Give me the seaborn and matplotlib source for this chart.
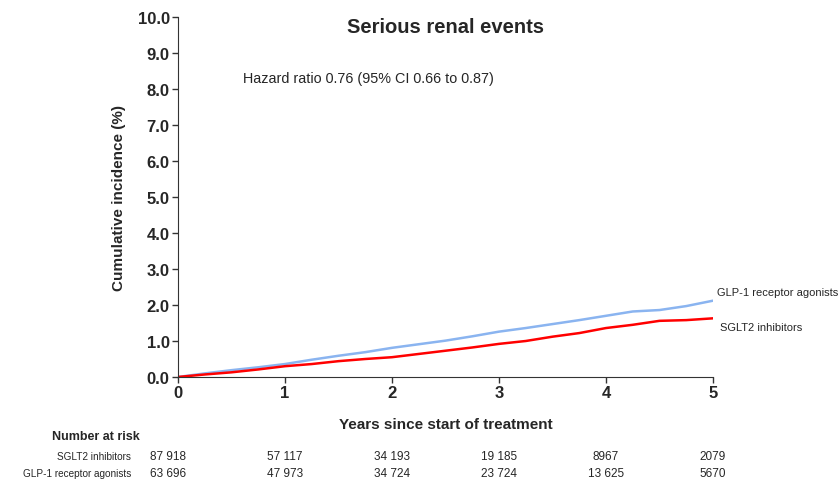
import matplotlib.pyplot as plt
import matplotlib.transforms as mtransforms
import seaborn as sns
import pandas as pd

years = [0, 0.25, 0.5, 0.75, 1, 1.25, 1.5, 1.75, 2, 2.25, 2.5, 2.75,
         3, 3.25, 3.5, 3.75, 4, 4.25, 4.5, 4.75, 5]
glp1 = [0, 0.10, 0.19, 0.27, 0.36, 0.48, 0.59, 0.69, 0.81, 0.91, 1.01, 1.13,
        1.26, 1.36, 1.47, 1.58, 1.70, 1.82, 1.86, 1.97, 2.12]
sglt2 = [0, 0.07, 0.13, 0.21, 0.30, 0.36, 0.44, 0.50, 0.55, 0.64, 0.73, 0.82,
         0.92, 1.00, 1.12, 1.22, 1.36, 1.45, 1.56, 1.58, 1.63]

risk_times = [0, 1, 2, 3, 4, 5]
risk_sglt2 = ["87 918", "57 117", "34 193", "19 185", "8967", "2079"]
risk_glp1 = ["63 696", "47 973", "34 724", "23 724", "13 625", "5670"]

sns.set_style("ticks")
plt.rcParams["font.family"] = ["Liberation Sans", "DejaVu Sans"]

df = pd.DataFrame({
    "year": years * 2,
    "inc": glp1 + sglt2,
    "group": ["GLP-1 receptor agonists"] * len(years) + ["SGLT2 inhibitors"] * len(years),
})

fig, ax = plt.subplots(figsize=(8.38, 4.81), dpi=100)
plt.subplots_adjust(left=178 / 838, right=713 / 838, top=1 - 18 / 481, bottom=1 - 378 / 481)
sns.lineplot(data=df, x="year", y="inc", hue="group", ax=ax,
             palette={"GLP-1 receptor agonists": "#8ab4f0", "SGLT2 inhibitors": "#ff0000"},
             linewidth=1.8, legend=False)

ax.set_xlim(0, 5)
ax.set_ylim(0, 10)
ax.set_xticks(range(6))
ax.set_yticks([i for i in range(11)])
ax.set_yticklabels([f"{i:.1f}" for i in range(11)])
for lab in ax.get_xticklabels() + ax.get_yticklabels():
    lab.set_fontweight("bold")
    lab.set_fontsize(12)
ax.tick_params(length=4, width=1, color="#333333", pad=2)
sns.despine(ax=ax)
for s in ["left", "bottom"]:
    ax.spines[s].set_color("#333333")
ax.set_xlabel("Years since start of treatment", fontweight="bold", fontsize=11, labelpad=12)
ax.set_ylabel("Cumulative incidence (%)", fontweight="bold", fontsize=11, labelpad=8)
ax.set_title("Serious renal events", fontweight="bold", fontsize=14.5, pad=-8, y=0.99)
ax.text(0.61, 8.2, "Hazard ratio 0.76 (95% CI 0.66 to 0.87)", fontsize=10.4)

ax.text(5.04, glp1[-1] + 0.25, "GLP-1 receptor agonists", fontsize=8, va="center", clip_on=False)
ax.text(5.07, sglt2[-1] - 0.25, "SGLT2 inhibitors", fontsize=8, va="center", clip_on=False)

trans = mtransforms.blended_transform_factory(ax.transData, fig.transFigure)
fig.text(52 / 838, 1 - 437 / 481, "Number at risk", fontweight="bold", fontsize=9, va="center")
fig.text(131 / 838, 1 - 457 / 481, "SGLT2 inhibitors", fontsize=7.2, va="center", ha="right")
fig.text(131 / 838, 1 - 474 / 481, "GLP-1 receptor agonists", fontsize=7.2, va="center", ha="right")
for t, a, b in zip(risk_times, risk_sglt2, risk_glp1):
    xx = t - 0.09 if t == 0 else t
    ax.text(xx, 1 - 457 / 481, a, transform=trans, fontsize=8.5, ha="center", va="center")
    ax.text(xx, 1 - 474 / 481, b, transform=trans, fontsize=8.5, ha="center", va="center")

fig.savefig("out.png", dpi=100)
